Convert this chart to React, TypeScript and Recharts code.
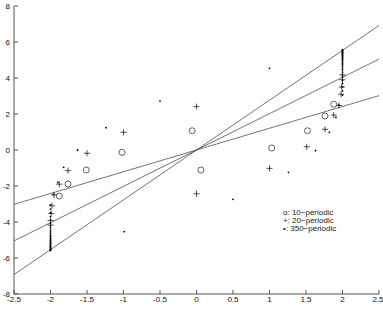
import {
  ReferenceLine,
  Scatter,
  ScatterChart,
  XAxis,
  YAxis,
} from "recharts";

const xTicks = [-2.5, -2, -1.5, -1, -0.5, 0, 0.5, 1, 1.5, 2, 2.5];
const yTicks = [-8, -6, -4, -2, 0, 2, 4, 6, 8];

// o: 10-periodic
const tenPeriodic: [number, number][] = [
  [-1.88, -2.56], [-1.76, -1.89], [-1.51, -1.11], [-1.02, -0.13], [-0.06, 1.07],
  [0.06, -1.11], [1.03, 0.11], [1.52, 1.07], [1.76, 1.89], [1.88, 2.54],
];

// +: 20-periodic
const twentyPeriodic: [number, number][] = [
  [-2.0, -4.17], [-2.0, -3.92], [-1.99, -3.52], [-1.98, -3.1], [-1.95, -2.5],
  [-1.88, -1.9], [-1.76, -1.15], [-1.5, -0.18], [-1.0, 0.98], [0.0, -2.43],
  [0.0, 2.41], [1.0, -1.02], [1.51, 0.18], [1.76, 1.15], [1.88, 1.94],
  [1.95, 2.47], [1.98, 3.1], [1.99, 3.5], [2.0, 3.9], [2.0, 4.17],
];

// .: 350-periodic (off the columns)
const scatteredDots: [number, number][] = [
  [-1.96, -2.46], [-1.9, -1.8], [-1.82, -0.96], [-1.63, 0.0], [-1.24, 1.24],
  [-0.99, -4.54], [-0.5, 2.72], [0.5, -2.74], [1.0, 4.54], [1.26, -1.24],
  [1.63, -0.04], [1.82, 0.98], [1.91, 1.81], [1.95, 2.5],
];
// dense columns near x = +-2
const columnTop = [
  3.05, 3.28, 3.5, 3.7, 3.88, 4.05, 4.2, 4.33, 4.45, 4.55, 4.65, 4.74, 4.82,
  4.9, 4.98, 5.04, 5.1, 5.15, 5.2, 5.25, 5.3, 5.34, 5.38, 5.42, 5.45, 5.49,
  5.52, 5.55, 5.58,
];

const fitLines: [number, number][][] = [
  [[-2.5, -3.02], [2.5, 3.02]],
  [[-2.5, -5.05], [2.5, 5.05]],
  [[-2.5, -6.92], [2.5, 6.92]],
];

const legendLabels = ["o: 10−periodic", "+: 20−periodic", "•: 350−periodic"];

const toPts = (a: [number, number][]) => a.map(([x, y]) => ({ x, y }));
const dots350 = [
  ...toPts(scatteredDots),
  ...columnTop.map((y) => ({ x: 2.0, y })),
  ...columnTop.map((y) => ({ x: -2.0, y: -y })),
];

const ink = "#222";
const font = { fontSize: 8, fill: "#111", fontFamily: "Liberation Sans, Arial, sans-serif" };

const Ring = (p: any) => (
  <circle cx={p.cx} cy={p.cy} r={3} fill="none" stroke={ink} strokeWidth={0.7} />
);
const Cross = (p: any) => (
  <g stroke={ink} strokeWidth={0.8}>
    <line x1={p.cx - 3} x2={p.cx + 3} y1={p.cy} y2={p.cy} />
    <line x1={p.cx} x2={p.cx} y1={p.cy - 3} y2={p.cy + 3} />
  </g>
);
const Dot = (p: any) => <circle cx={p.cx} cy={p.cy} r={0.9} fill="#000" />;

export default function App() {
  return (
    <div style={{ position: "absolute", left: 0, top: 0, width: 383, height: 311, background: "#fff" }}>
      <ScatterChart width={383} height={311} margin={{ top: 6, right: 4, bottom: 0, left: 0 }}>
        <XAxis
          xAxisId="b"
          type="number"
          dataKey="x"
          domain={[-2.5, 2.5]}
          ticks={xTicks}
          height={17}
          tickSize={-4}
          tickMargin={6}
          tick={font}
          stroke="#555"
          allowDataOverflow
        />
        <XAxis
          xAxisId="t"
          orientation="top"
          type="number"
          dataKey="x"
          domain={[-2.5, 2.5]}
          ticks={xTicks}
          height={0}
          tickSize={-4}
          tick={false}
          stroke="#555"
          allowDataOverflow
        />
        <YAxis
          yAxisId="l"
          type="number"
          dataKey="y"
          domain={[-8, 8]}
          ticks={yTicks}
          width={14}
          tickSize={-4}
          tickMargin={8}
          tick={font}
          stroke="#555"
          allowDataOverflow
        />
        <YAxis
          yAxisId="r"
          orientation="right"
          type="number"
          dataKey="y"
          domain={[-8, 8]}
          ticks={yTicks}
          width={0}
          tickSize={-4}
          tick={false}
          stroke="#555"
          allowDataOverflow
        />
        {fitLines.map((seg, i) => (
          <ReferenceLine
            key={i}
            xAxisId="b"
            yAxisId="l"
            segment={seg.map(([x, y]) => ({ x, y }))}
            stroke="#444"
            strokeWidth={0.75}
          />
        ))}
        <Scatter xAxisId="b" yAxisId="l" data={toPts(tenPeriodic)} shape={Ring} isAnimationActive={false} />
        <Scatter xAxisId="b" yAxisId="l" data={toPts(twentyPeriodic)} shape={Cross} isAnimationActive={false} />
        <Scatter xAxisId="b" yAxisId="l" data={dots350} shape={Dot} isAnimationActive={false} />
      </ScatterChart>
      <div
        style={{
          position: "absolute",
          left: 283,
          top: 209,
          fontFamily: "Liberation Sans, Arial, sans-serif",
          fontSize: 8,
          lineHeight: "8px",
          color: "#222",
          whiteSpace: "pre",
        }}
      >
        {legendLabels.map((t) => (
          <div key={t} style={{ height: 8 }}>{t}</div>
        ))}
      </div>
    </div>
  );
}
